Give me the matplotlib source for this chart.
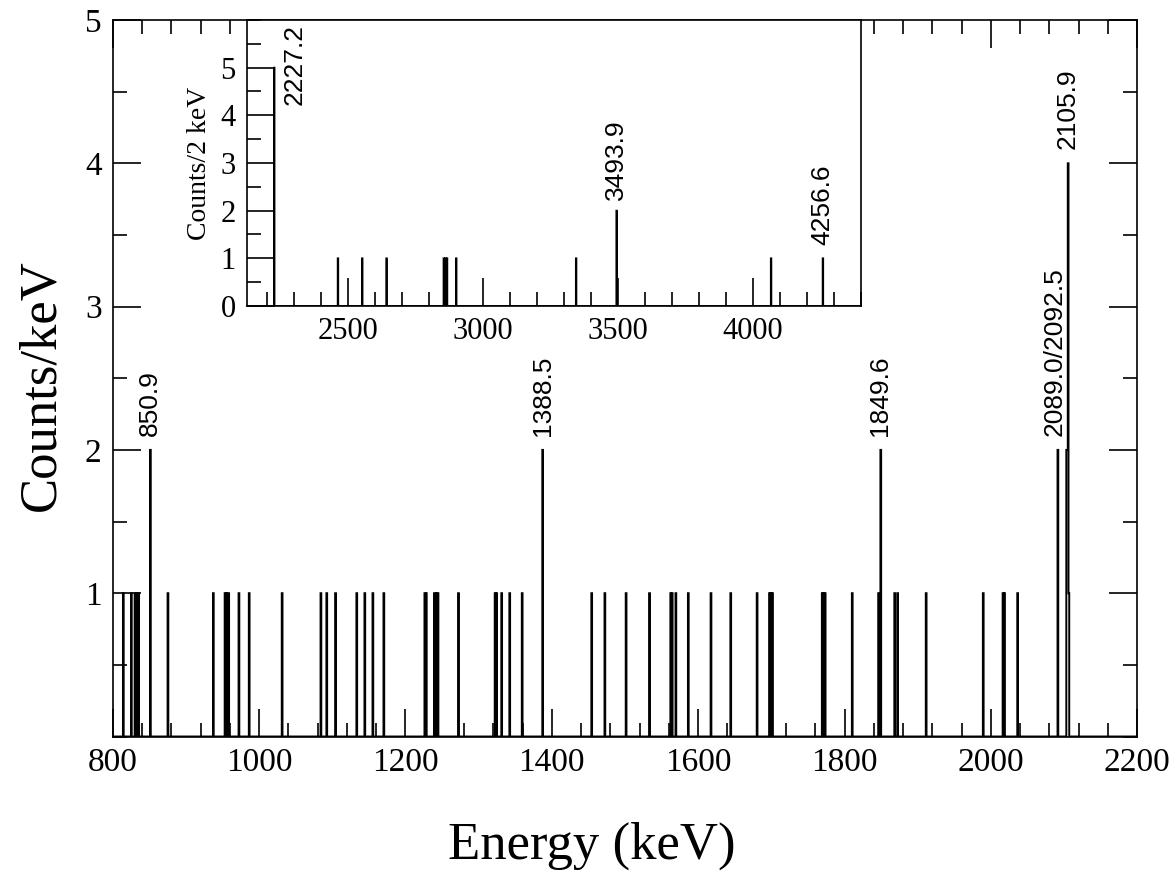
import numpy as np
import matplotlib
matplotlib.use("Agg")
import matplotlib.pyplot as plt
from matplotlib.ticker import MultipleLocator

# ---------------- data ----------------
# main spectrum (1 keV bins): energies of filled bins and their counts
main_energy = [814, 825, 830, 832, 835, 851, 875, 937, 953, 955, 958, 972, 986,
               1031, 1084, 1092, 1104, 1133, 1144, 1155, 1170, 1226, 1228, 1239,
               1242, 1244, 1272, 1322, 1324, 1331, 1342, 1359, 1387, 1454, 1472,
               1501, 1533, 1562, 1564, 1569, 1586, 1617, 1644, 1680, 1697, 1699,
               1701, 1769, 1771, 1773, 1810, 1846, 1849, 1868, 1872, 1911, 1989,
               2016, 2018, 2036, 2091, 2103, 2104, 2105, 2106]
main_counts = [1, 1, 1, 1, 1, 2, 1, 1, 1, 1, 1, 1, 1,
               1, 1, 1, 1, 1, 1, 1, 1, 1, 1, 1,
               1, 1, 1, 1, 1, 1, 1, 1, 2, 1, 1,
               1, 1, 1, 1, 1, 1, 1, 1, 1, 1, 1,
               1, 1, 1, 1, 1, 1, 2, 1, 1, 1, 1,
               1, 1, 1, 2, 2, 2, 4, 1]
main_labels = ["850.9", "1388.5", "1849.6", "2089.0/2092.5", "2105.9"]
main_label_E = [851, 1387.5, 1849, 2087.5, 2105]
main_label_y = [2, 2, 2, 2, 4]

# inset spectrum (2 keV bins)
inset_energy = [2227, 2463, 2552, 2642, 2854, 2860, 2867, 2901, 3344, 3494, 4067, 4258]
inset_counts = [5, 1, 1, 1, 1, 1, 1, 1, 1, 2, 1, 1]
inset_labels = ["2227.2", "3493.9", "4256.6"]
inset_label_E = [2302, 3494, 4258]
inset_label_y = [4.22, 2.22, 1.28]

main_xticks = [800, 1000, 1200, 1400, 1600, 1800, 2000, 2200]
main_yticks = [1, 2, 3, 4, 5]
inset_xticks = [2500, 3000, 3500, 4000]
inset_yticks = [0, 1, 2, 3, 4, 5]

SERIF = "Liberation Serif"
SANS = "Liberation Sans"

# ---------------- figure ----------------
W, H = 1172, 873
fig = plt.figure(figsize=(W / 100, H / 100), dpi=100)

def px_axes(l, t, r, b):
    return [l / W, 1 - b / H, (r - l) / W, (b - t) / H]

ax = fig.add_axes(px_axes(112.7, 20, 1137.3, 736.5))

edges = np.arange(800, 2201, 1.0)
hist = np.zeros(len(edges) - 1)
for e, c in zip(main_energy, main_counts):
    hist[int(e - 800)] += c
ax.stairs(hist, edges, baseline=0, color="black", lw=1.4)

ax.set_xlim(800, 2200)
ax.set_ylim(0, 5)
ax.set_xticks(main_xticks)
ax.set_yticks(main_yticks)
ax.xaxis.set_minor_locator(MultipleLocator(40))
ax.yaxis.set_minor_locator(MultipleLocator(0.5))
ax.tick_params(which="both", direction="in", top=True, right=True, width=1.2)
ax.tick_params(which="major", length=20, labelsize=24, pad=8)
ax.tick_params(which="minor", length=10)
for lab in ax.get_xticklabels() + ax.get_yticklabels():
    lab.set_fontfamily(SERIF)
for sp in ax.spines.values():
    sp.set_linewidth(1.2)

for txt, e, y in zip(main_labels, main_label_E, main_label_y):
    ax.text(e, y + 0.1, txt, rotation=90, ha="center", va="bottom",
            fontsize=19, family=SANS)

fig.text(592 / W, 1 - 846 / H, "Energy (keV)", ha="center", va="center",
         fontsize=38, family=SERIF)
fig.text(41 / W, 1 - 385 / H, "Counts/keV", ha="center", va="center",
         rotation=90, fontsize=38, family=SERIF)

# ---------------- inset ----------------
axi = fig.add_axes(px_axes(246.7, 20, 861, 306))
axi.set_facecolor("white")
iedges = np.arange(2124, 4402, 2.0)
ihist = np.zeros(len(iedges) - 1)
for e, c in zip(inset_energy, inset_counts):
    ihist[int((e - 2124) // 2)] += c
axi.stairs(ihist, iedges, baseline=0, color="black", lw=1.3)
axi.set_xlim(2125, 4400)
axi.set_ylim(0, 6)
axi.set_xticks(inset_xticks)
axi.set_yticks(inset_yticks)
axi.xaxis.set_minor_locator(MultipleLocator(100))
axi.yaxis.set_minor_locator(MultipleLocator(0.5))
axi.tick_params(which="both", direction="in", top=False, right=False, width=1.2)
axi.tick_params(which="major", length=20, labelsize=22, pad=8)
axi.tick_params(which="minor", length=10)
for lab in axi.get_xticklabels() + axi.get_yticklabels():
    lab.set_fontfamily(SERIF)
for sp in axi.spines.values():
    sp.set_linewidth(1.2)
axi.set_ylabel("Counts/2 keV", fontsize=20, family=SERIF, labelpad=6)

for txt, e, y in zip(inset_labels, inset_label_E, inset_label_y):
    axi.text(e, y, txt, rotation=90, ha="center", va="bottom",
             fontsize=19, family=SANS)

fig.savefig("out.png", dpi=100)
